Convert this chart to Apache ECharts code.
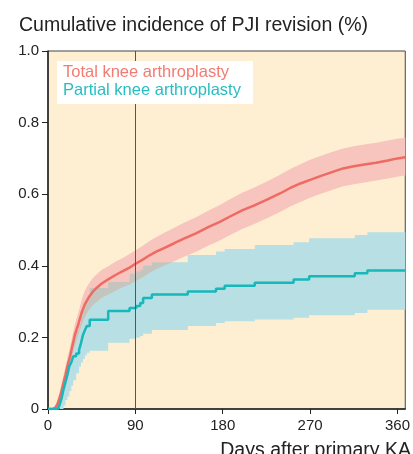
<!DOCTYPE html>
<html><head><meta charset="utf-8">
<script src="https://cdn.jsdelivr.net/npm/echarts@6/dist/echarts.min.js"></script>
<style>html,body{margin:0;padding:0;background:#fff}#c{width:413px;height:454px}</style>
</head><body><div id="c"></div>
<script>
const titleText = 'Cumulative incidence of PJI revision (%)';
const xTitle = 'Days after primary KA';
const seriesNames = ['Total knee arthroplasty', 'Partial knee arthroplasty'];
const xTicks = [0, 90, 180, 270, 360];
const refDay = 90;

// Total knee arthroplasty (cumulative incidence + confidence band)
const tkaDays = [0,5,8,10,13,15,18,20,23,25,28,31,35,38,42,46,50,55,62,70,77,84,91,98,105,112,119,130,140,153,165,177,187,200,212,225,239,250,260,270,282,294,304,315,326,338,350,360,368];
const tka     = [0,0,0.005,0.015,0.04,0.063,0.095,0.12,0.15,0.175,0.21,0.235,0.272,0.293,0.312,0.327,0.338,0.35,0.362,0.375,0.385,0.395,0.407,0.418,0.43,0.44,0.449,0.463,0.476,0.491,0.508,0.523,0.537,0.555,0.568,0.584,0.602,0.618,0.63,0.64,0.652,0.663,0.672,0.678,0.683,0.688,0.694,0.70,0.703];
const tkaLow  = [0,0,0,0.005,0.025,0.045,0.075,0.1,0.125,0.15,0.18,0.205,0.237,0.258,0.276,0.289,0.299,0.31,0.32,0.331,0.34,0.348,0.358,0.369,0.381,0.391,0.4,0.413,0.425,0.44,0.456,0.471,0.485,0.503,0.516,0.532,0.55,0.566,0.578,0.59,0.602,0.613,0.622,0.628,0.633,0.638,0.644,0.649,0.652];
const tkaHigh = [0,0.003,0.012,0.028,0.058,0.083,0.118,0.143,0.177,0.203,0.24,0.267,0.307,0.331,0.35,0.365,0.376,0.388,0.399,0.412,0.422,0.433,0.445,0.457,0.47,0.481,0.491,0.506,0.52,0.536,0.554,0.57,0.585,0.604,0.618,0.635,0.654,0.671,0.684,0.696,0.708,0.719,0.728,0.734,0.739,0.744,0.75,0.755,0.758];

// Partial knee arthroplasty (step function + confidence band)
const pkaDays = [0,10,12,14,16,18,20,22,24,26,29,32,34,36,38,40,43,62,84,91,95,98,107,144,173,182,213,253,269,316,329,368];
const pka     = [0,0,0.012,0.03,0.055,0.075,0.095,0.12,0.13,0.147,0.155,0.165,0.184,0.207,0.22,0.232,0.249,0.274,0.282,0.288,0.296,0.31,0.32,0.328,0.336,0.344,0.353,0.362,0.371,0.379,0.387,0.387];
const pkaLow  = [0,0,0,0,0.01,0.025,0.035,0.05,0.065,0.08,0.1,0.118,0.13,0.14,0.15,0.157,0.163,0.185,0.196,0.2,0.204,0.21,0.221,0.232,0.24,0.245,0.25,0.255,0.262,0.268,0.277,0.277];
const pkaHigh = [0,0,0.03,0.063,0.09,0.11,0.13,0.16,0.18,0.2,0.22,0.24,0.26,0.285,0.3,0.312,0.338,0.355,0.378,0.385,0.39,0.4,0.41,0.43,0.44,0.447,0.458,0.466,0.477,0.486,0.494,0.494];

const FONT = '"Liberation Sans", Arial, Helvetica, sans-serif';
const COLORS = {bg: '#FEEFD2', pkaBand: '#B7DFE4', tkaBand: '#F7C5BD', overlap: '#C5C5BF',
                tkaLine: '#EE6A63', pkaLine: '#17B8B9', tkaText: '#F27B72', pkaText: '#27BDC2'};
const pairs = (xs, ys) => xs.map((x, i) => [x, ys[i]]);

// Polygon of a confidence band, projected through the axis scales (api.coord)
function bandPoints(api, xs, lo, hi, stepped) {
  const top = [], bot = [];
  for (let i = 0; i < xs.length; i++) {
    if (stepped && i > 0) {
      top.push(api.coord([xs[i], hi[i - 1]]));
      bot.push(api.coord([xs[i], lo[i - 1]]));
    }
    top.push(api.coord([xs[i], hi[i]]));
    bot.push(api.coord([xs[i], lo[i]]));
  }
  return top.concat(bot.reverse());
}

const bandsSeries = {
  type: 'custom', silent: true, z: 1, clip: true,
  data: pkaDays.map((x, i) => [x, pkaLow[i], pkaHigh[i]]).concat(tkaDays.map((x, i) => [x, tkaLow[i], tkaHigh[i]])),
  encode: {x: 0, y: [1, 2]},
  renderItem: function (params, api) {
    if (params.dataIndex !== 0) return null;
    const bluePts = bandPoints(api, pkaDays, pkaLow, pkaHigh, true);
    const redPts = bandPoints(api, tkaDays, tkaLow, tkaHigh, false);
    return {
      type: 'group',
      children: [
        {type: 'polygon', shape: {points: bluePts}, style: {fill: COLORS.pkaBand}},
        {type: 'polygon', shape: {points: redPts}, style: {fill: COLORS.tkaBand}},
        {type: 'polygon', shape: {points: redPts}, style: {fill: COLORS.overlap},
         clipPath: {type: 'polygon', shape: {points: bluePts}}}
      ]
    };
  }
};

const chart = echarts.init(document.getElementById('c'), null, {renderer: 'canvas'});
chart.setOption({
  animation: false,
  backgroundColor: '#ffffff',
  textStyle: {fontFamily: FONT},
  grid: {left: 48, right: 7, top: 51, bottom: 45, show: true,
         backgroundColor: COLORS.bg, borderColor: '#444', borderWidth: 1},
  xAxis: {
    type: 'value', min: 0, max: 368,
    axisLine: {show: true, lineStyle: {color: '#222', width: 1.5}},
    axisTick: {show: true, length: 5, lineStyle: {color: '#222'}, customValues: xTicks},
    axisLabel: {customValues: xTicks, color: '#222', fontSize: 15, margin: 9, fontFamily: FONT},
    splitLine: {show: false}
  },
  yAxis: {
    type: 'value', min: 0, max: 1, interval: 0.2,
    axisLine: {show: true, lineStyle: {color: '#222', width: 1.5}},
    axisTick: {show: true, length: 6, lineStyle: {color: '#222'}},
    axisLabel: {color: '#222', fontSize: 15, margin: 9, fontFamily: FONT,
                formatter: v => v === 0 ? '0' : v.toFixed(1)},
    splitLine: {show: false}
  },
  graphic: [
    {type: 'text', left: 19, top: 16, style: {text: titleText, font: '19.5px ' + FONT, fill: '#222'}},
    {type: 'text', right: 2, top: 441, style: {text: xTitle, font: '19.5px ' + FONT, fill: '#222'}},
    {type: 'rect', shape: {x: 57, y: 61, width: 196, height: 43}, style: {fill: '#ffffff'}, z: 100},
    {type: 'text', x: 63, y: 72.5, z: 101, style: {text: seriesNames[0], font: '16.5px ' + FONT, fill: COLORS.tkaText, verticalAlign: 'middle'}},
    {type: 'text', x: 63, y: 90, z: 101, style: {text: seriesNames[1], font: '16.5px ' + FONT, fill: COLORS.pkaText, verticalAlign: 'middle'}}
  ],
  series: [
    bandsSeries,
    {name: seriesNames[0], type: 'line', symbol: 'none', data: pairs(tkaDays, tka), z: 3,
     lineStyle: {color: COLORS.tkaLine, width: 2.5},
     markLine: {silent: true, symbol: ['none', 'none'], label: {show: false},
                lineStyle: {color: '#555', type: 'solid', width: 1}, data: [{xAxis: refDay}]}},
    {name: seriesNames[1], type: 'line', step: 'end', symbol: 'none', data: pairs(pkaDays, pka), z: 4,
     lineStyle: {color: COLORS.pkaLine, width: 2.5}}
  ]
});
</script></body></html>
